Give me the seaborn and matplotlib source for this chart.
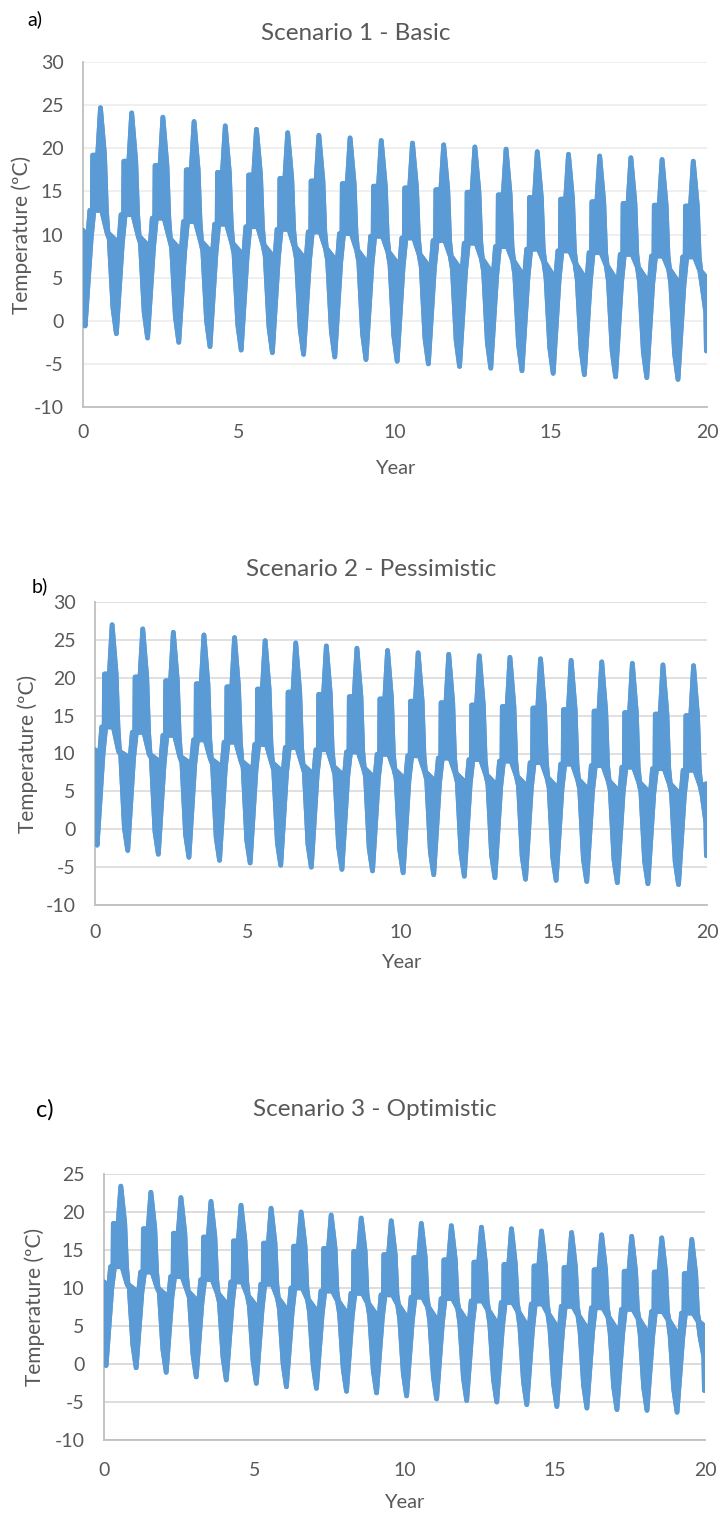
import matplotlib
matplotlib.use("Agg")
import matplotlib.pyplot as plt
import seaborn as sns

YEARS = list(range(20))

# Scenario 1 - Basic: seasonal features of the simulated temperature, one value per year (ºC)
basic_peak = [24.7, 24.1, 23.6, 23.1, 22.6, 22.2, 21.8, 21.5, 21.2, 20.9,
              20.6, 20.4, 20.15, 19.9, 19.6, 19.3, 19.1, 18.9, 18.7, 18.5]
basic_summer = [19.2, 18.5, 18.0, 17.5, 17.2, 16.9, 16.5, 16.2, 15.9, 15.6,
                15.4, 15.2, 14.9, 14.6, 14.3, 14.1, 13.8, 13.6, 13.4, 13.3]
basic_spring = [12.8, 12.3, 11.9, 11.5, 11.2, 10.9, 10.6, 10.3, 10.1, 9.8,
                9.6, 9.3, 9.0, 8.6, 8.3, 8.1, 7.9, 7.7, 7.5, 7.4]
basic_winter_top = [9.5, 9.0, 8.5, 8.1, 7.8, 7.5, 7.2, 7.0, 6.8, 6.5,
                    6.3, 6.0, 5.7, 5.3, 5.0, 4.8, 4.6, 4.4, 4.3, 4.1]
basic_autumn_top = [10.2, 9.8, 9.5, 9.2, 9.0, 8.8, 8.6, 8.4, 8.2, 8.0,
                    7.7, 7.5, 7.2, 7.0, 6.8, 6.6, 6.4, 6.2, 6.0, 5.8]
basic_trough = [-0.6, -1.5, -2.0, -2.5, -3.0, -3.4, -3.7, -3.9, -4.2, -4.5,
                -4.7, -5.0, -5.3, -5.5, -5.8, -6.1, -6.25, -6.5, -6.6, -6.8]
basic_autumn_low = [1.5, 1.0, 0.5, 0.0, -0.4, -0.7, -0.9, -1.2, -1.5, -1.7,
                    -2.0, -2.3, -2.5, -2.8, -3.1, -3.25, -3.5, -3.6, -3.8, 1.0]
basic_first = [10.5, 0.5]
basic_last = [5.0, -3.5]

# Scenario 2 - Pessimistic
pess_peak = [27.0, 26.45, 26.0, 25.65, 25.3, 24.9, 24.6, 24.2, 23.9, 23.6,
             23.3, 23.1, 22.9, 22.7, 22.5, 22.3, 22.1, 21.9, 21.7, 21.6]
pess_summer = [20.5, 20.1, 19.6, 19.2, 18.8, 18.5, 18.1, 17.8, 17.5, 17.2,
               16.9, 16.7, 16.4, 16.2, 16.0, 15.8, 15.6, 15.4, 15.2, 15.0]
pess_spring = [13.5, 12.8, 12.4, 11.8, 11.5, 11.2, 10.8, 10.5, 10.2, 9.9,
               9.7, 9.4, 9.2, 9.0, 8.8, 8.6, 8.4, 8.2, 8.0, 7.8]
pess_winter_top = [9.85, 9.4, 8.8, 8.6, 8.2, 7.8, 7.5, 7.2, 7.0, 6.7,
                   6.5, 6.2, 6.0, 5.7, 5.5, 5.3, 5.1, 4.9, 4.7, 4.5]
pess_autumn_top = [10.3, 9.9, 9.6, 9.3, 9.0, 8.8, 8.5, 8.3, 8.1, 7.9,
                   7.6, 7.4, 7.2, 7.0, 6.8, 6.6, 6.4, 6.2, 6.0, 5.8]
pess_trough = [-2.1, -2.8, -3.3, -3.7, -4.1, -4.45, -4.75, -5.0, -5.3, -5.5,
               -5.75, -6.0, -6.2, -6.4, -6.6, -6.75, -6.9, -7.05, -7.2, -7.3]
pess_autumn_low = [0.2, -0.3, -0.7, -1.1, -1.45, -1.75, -2.0, -2.3, -2.5, -2.75,
                   -3.0, -3.2, -3.4, -3.6, -3.75, -3.9, -4.05, -4.2, -4.3, 1.0]
pess_first = [10.5, 0.0]
pess_last = [6.0, -3.5]

# Scenario 3 - Optimistic
opt_peak = [23.4, 22.6, 21.9, 21.4, 20.9, 20.5, 20.0, 19.6, 19.2, 18.85,
            18.5, 18.2, 18.0, 17.8, 17.5, 17.3, 17.0, 16.8, 16.6, 16.4]
opt_summer = [18.5, 17.8, 17.2, 16.7, 16.2, 15.9, 15.5, 15.2, 14.8, 14.4,
              14.0, 13.7, 13.4, 13.1, 12.9, 12.7, 12.4, 12.2, 12.1, 11.9]
opt_spring = [12.8, 12.1, 11.5, 11.1, 10.8, 10.5, 10.0, 9.6, 9.3, 9.1,
              8.8, 8.6, 8.3, 8.1, 7.9, 7.6, 7.4, 7.2, 6.9, 6.7]
opt_winter_top = [10.0, 9.4, 8.75, 8.1, 7.6, 7.2, 6.8, 6.6, 6.3, 6.0,
                  5.7, 5.4, 5.2, 4.9, 4.6, 4.4, 4.2, 4.0, 3.7, 3.5]
opt_autumn_top = [10.5, 10.0, 9.6, 9.3, 9.0, 8.7, 8.5, 8.3, 8.0, 7.8,
                  7.5, 7.3, 7.1, 6.9, 6.6, 6.4, 6.2, 6.0, 5.8, 5.6]
opt_trough = [-0.2, -0.5, -1.1, -1.7, -2.1, -2.55, -3.0, -3.2, -3.6, -3.8,
              -4.2, -4.6, -4.8, -5.0, -5.35, -5.6, -5.8, -6.0, -6.1, -6.35]
opt_autumn_low = [2.5, 1.9, 1.3, 0.9, 0.45, 0.0, -0.2, -0.6, -0.8, -1.2,
                  -1.6, -1.8, -2.0, -2.35, -2.6, -2.8, -3.0, -3.1, -3.35, 1.0]
opt_first = [10.8, 0.5]
opt_last = [5.0, -3.5]

X_TICKS = [0, 5, 10, 15, 20]

# Where in the year (fraction) each seasonal feature sits along the
# upper and lower edges of the daily temperature swing.
UPPER_PATH = [("winter_top", 0.15), ("spring", 0.22), ("spring", 0.30),
              ("summer", 0.31), ("summer", 0.47), ("peak", 0.56),
              ("summer", 0.69), ("spring", 0.75), ("autumn_top", 0.80)]
LOWER_PATH = [("trough", 0.07), ("winter_top", 0.26), ("spring", 0.35),
              ("spring", 0.60), ("autumn_top", 0.77), ("winter_top", 0.84),
              ("autumn_low", 0.96)]
END_T = 19.98

BLUE = "#5B9BD5"
TEXT = "#595959"
W, H = 720, 1518
LW = 3.4

sns.set_theme(style="white")
plt.rcParams["font.family"] = ["Lato", "DejaVu Sans"]


def edge(features, path, first, last):
    xs, ys = [0.0], [first]
    for yr in YEARS:
        for key, phase in path:
            t = yr + phase
            if t >= END_T:
                continue
            xs.append(t)
            ys.append(features[key][yr])
    xs.append(END_T)
    ys.append(last)
    return xs, ys


def fx(px):
    return px / W


def fy(py):
    return 1 - py / H


fig = plt.figure(figsize=(W / 100, H / 100), dpi=100)

panels = [
    dict(feat=dict(peak=basic_peak, summer=basic_summer, spring=basic_spring,
                   winter_top=basic_winter_top, autumn_top=basic_autumn_top,
                   trough=basic_trough, autumn_low=basic_autumn_low),
         first=basic_first, last=basic_last, ylim=(-10, 30),
         yticks=[-10, -5, 0, 5, 10, 15, 20, 25, 30],
         box=(83, 707, 62, 407), grid="#EEEEEE", xpad=12,
         tag="a)", tag_xy=(27, 19), tag_size=14,
         title="Scenario 1 - Basic", title_xy=(356, 33),
         ylabel_x=22, xlabel_y=468),
    dict(feat=dict(peak=pess_peak, summer=pess_summer, spring=pess_spring,
                   winter_top=pess_winter_top, autumn_top=pess_autumn_top,
                   trough=pess_trough, autumn_low=pess_autumn_low),
         first=pess_first, last=pess_last, ylim=(-10, 30),
         yticks=[-10, -5, 0, 5, 10, 15, 20, 25, 30],
         box=(95, 707, 602, 905), grid="#DDDDDD", xpad=14,
         tag="b)", tag_xy=(32, 586), tag_size=14,
         title="Scenario 2 - Pessimistic", title_xy=(371, 569),
         ylabel_x=28, xlabel_y=962),
    dict(feat=dict(peak=opt_peak, summer=opt_summer, spring=opt_spring,
                   winter_top=opt_winter_top, autumn_top=opt_autumn_top,
                   trough=opt_trough, autumn_low=opt_autumn_low),
         first=opt_first, last=opt_last, ylim=(-10, 25),
         yticks=[-10, -5, 0, 5, 10, 15, 20, 25],
         box=(104, 705, 1174, 1440), grid="#DADADA", xpad=16,
         tag="c)", tag_xy=(36, 1110), tag_size=17,
         title="Scenario 3 - Optimistic", title_xy=(375, 1110),
         ylabel_x=35, xlabel_y=1503),
]

for p in panels:
    x0, x1, y0, y1 = p["box"]
    ax = fig.add_axes([fx(x0), fy(y1), fx(x1) - fx(x0), fy(y0) - fy(y1)])

    ux, uy = edge(p["feat"], UPPER_PATH, p["first"][0], p["last"][0])
    lx, ly = edge(p["feat"], LOWER_PATH, p["first"][1], p["last"][1])
    ax.fill(ux + lx[::-1], uy + ly[::-1], color=BLUE, lw=LW,
            joinstyle="round", zorder=3)
    sns.lineplot(x=ux, y=uy, ax=ax, color=BLUE, lw=LW, sort=False,
                 estimator=None, zorder=4, solid_joinstyle="round",
                 solid_capstyle="round")
    sns.lineplot(x=lx, y=ly, ax=ax, color=BLUE, lw=LW, sort=False,
                 estimator=None, zorder=4, solid_joinstyle="round",
                 solid_capstyle="round")

    ax.set_xlim(0, 20)
    ax.set_ylim(*p["ylim"])
    ax.set_xticks(X_TICKS)
    ax.set_yticks(p["yticks"])
    ax.set_xticklabels([str(v) for v in X_TICKS])
    ax.set_yticklabels([str(v) for v in p["yticks"]])
    ax.set_xlabel("")
    ax.set_ylabel("")
    ax.grid(axis="y", color=p["grid"], lw=1.3, zorder=0)
    ax.grid(axis="x", visible=False)
    for side in ("top", "right"):
        ax.spines[side].set_visible(False)
    for side in ("left", "bottom"):
        ax.spines[side].set_color("#BFBFBF")
        ax.spines[side].set_linewidth(1.3)
    ax.tick_params(axis="both", length=0, labelsize=14, colors=TEXT)
    ax.tick_params(axis="y", pad=14)
    ax.tick_params(axis="x", pad=p["xpad"])

    fig.text(fx(p["tag_xy"][0]), fy(p["tag_xy"][1]), p["tag"],
             fontsize=p["tag_size"], color="black", ha="left", va="center")
    fig.text(fx(p["title_xy"][0]), fy(p["title_xy"][1]), p["title"],
             fontsize=17.5, color=TEXT, ha="center", va="center")
    fig.text(fx(p["ylabel_x"]), fy((y0 + y1) / 2), "Temperature (ºC)",
             fontsize=15, color=TEXT, ha="center", va="center", rotation=90)
    fig.text(fx((x0 + x1) / 2), fy(p["xlabel_y"]), "Year",
             fontsize=14.5, color=TEXT, ha="center", va="center")

fig.savefig("out.png", dpi=100, facecolor="white")
